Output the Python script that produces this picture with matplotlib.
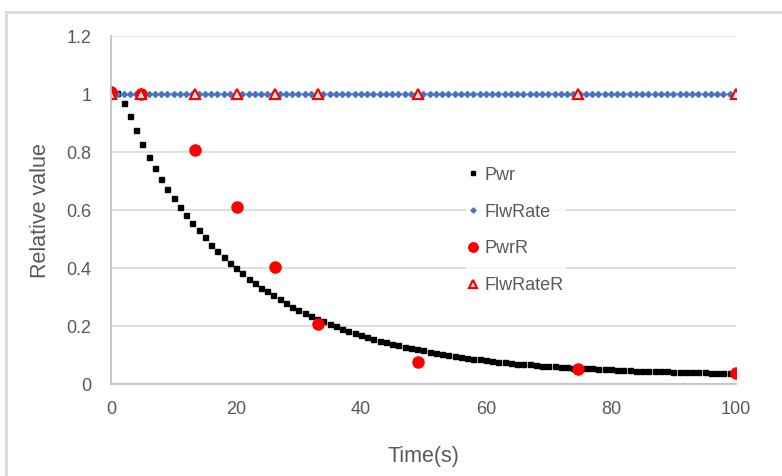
import matplotlib.pyplot as plt
from matplotlib.lines import Line2D

# Pwr / FlwRate sampled each second
time = list(range(0, 101))
pwr = [1.000, 1.005, 0.971, 0.923, 0.875, 0.828, 0.785, 0.744, 0.707, 0.672,
       0.641, 0.610, 0.582, 0.554, 0.530, 0.506, 0.479, 0.458, 0.437, 0.417,
       0.399, 0.383, 0.364, 0.348, 0.333, 0.320, 0.306, 0.292, 0.280, 0.267,
       0.256, 0.245, 0.235, 0.226, 0.216, 0.207, 0.199, 0.191, 0.182, 0.175,
       0.168, 0.161, 0.155, 0.149, 0.144, 0.139, 0.134, 0.129, 0.124, 0.120,
       0.116, 0.111, 0.108, 0.104, 0.100, 0.097, 0.094, 0.091, 0.088, 0.085,
       0.083, 0.080, 0.078, 0.076, 0.073, 0.071, 0.070, 0.068, 0.066, 0.064,
       0.063, 0.061, 0.060, 0.058, 0.057, 0.056, 0.055, 0.054, 0.053, 0.052,
       0.051, 0.050, 0.049, 0.048, 0.047, 0.047, 0.046, 0.045, 0.045, 0.044,
       0.043, 0.043, 0.042, 0.042, 0.041, 0.041, 0.040, 0.040, 0.040, 0.039,
       0.039]
flw_rate = [1.0] * 101

# reference points
time_r = [0, 4.8, 13.4, 20.2, 26.2, 33.1, 49.1, 74.8, 100]
pwr_r = [1.006, 1.0, 0.809, 0.610, 0.405, 0.208, 0.078, 0.051, 0.038]
flw_rate_r = [1.0, 1.0, 1.0, 1.0, 1.0, 1.0, 1.0, 1.0, 1.0]

plt.rcParams['font.family'] = ['Liberation Sans', 'DejaVu Sans']
txt = '#595959'
grid = '#d9d9d9'

fig = plt.figure(figsize=(7.82, 4.76), dpi=100)
ax = fig.add_axes([0.142, 0.193, 0.799, 0.731])

ax.plot(time, pwr, ls='none', marker='s', ms=3.6, color='black', label='Pwr')
ax.plot(time, flw_rate, ls='none', marker='D', ms=3.0, color='#4472c4', label='FlwRate')
ax.plot(time_r, pwr_r, ls='none', marker='o', ms=8, color='#ff0000', label='PwrR')
ax.plot(time_r, flw_rate_r, ls='none', marker='^', ms=7.5, mfc='white', mec='#ff0000',
        mew=1.6, label='FlwRateR')

ax.set_xlim(0, 100)
ax.set_ylim(0, 1.2)
ax.set_xticks([0, 20, 40, 60, 80, 100])
ax.set_yticks([0, 0.2, 0.4, 0.6, 0.8, 1.0, 1.2])
ax.set_yticklabels(['0', '0.2', '0.4', '0.6', '0.8', '1', '1.2'])
ax.tick_params(length=0, labelsize=13, colors=txt, pad=14)
ax.tick_params(axis='x', pad=12)
ax.yaxis.grid(True, color=grid, lw=1.2)
ax.set_axisbelow(True)
for s in ['top', 'right']:
    ax.spines[s].set_visible(False)
for s in ['left', 'bottom']:
    ax.spines[s].set_color('#bfbfbf')
    ax.spines[s].set_linewidth(1.2)

ax.set_xlabel('Time(s)', fontsize=15.5, color=txt, labelpad=20)
ax.set_ylabel('Relative value', fontsize=15.5, color=txt, labelpad=11)

leg = ax.legend(loc='upper left', bbox_to_anchor=(0.568, 0.630), frameon=True,
                fontsize=13, labelcolor=txt, handlelength=0.6, handletextpad=0.35,
                labelspacing=1.1, borderpad=0.1, borderaxespad=0, markerscale=0.85)
leg.get_frame().set_facecolor('white')
leg.get_frame().set_edgecolor('none')

# chart area border
fig.add_artist(Line2D([6 / 782, 1.0], [1 - 12 / 476, 1 - 12 / 476], color=grid, lw=2))
fig.add_artist(Line2D([6 / 782, 6 / 782], [0, 1 - 12 / 476], color=grid, lw=2))

fig.savefig('out.png', dpi=100)
